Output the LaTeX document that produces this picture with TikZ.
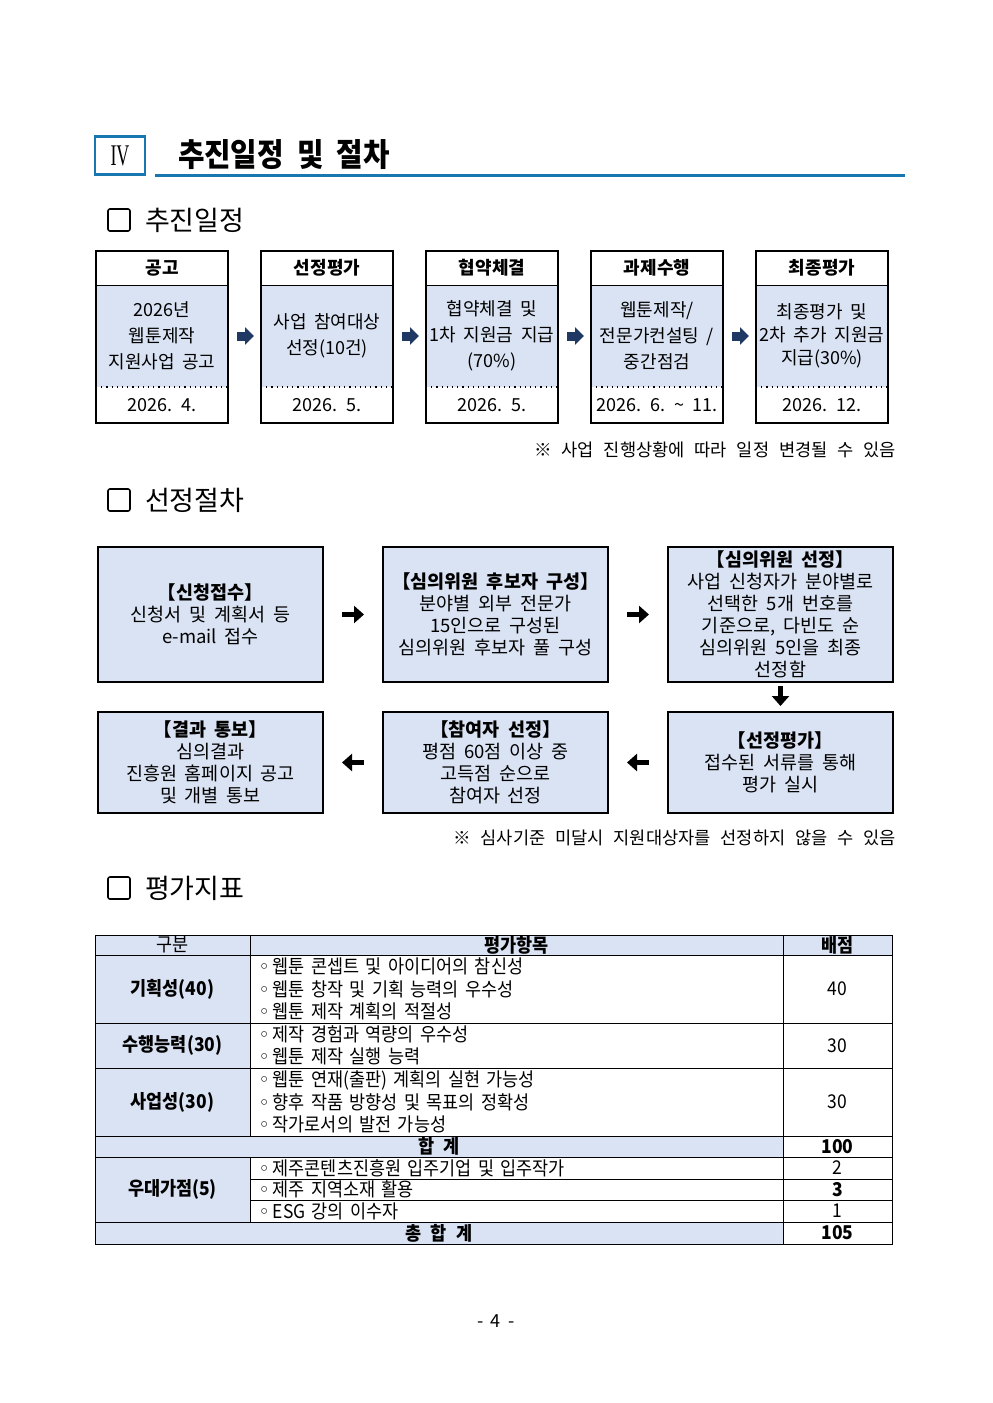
\documentclass[tikz,border=0pt]{standalone}
\usepackage{fontspec}
\setmainfont{Noto Sans CJK KR}[WordSpace=1.9]
\newfontfamily\tabfont{Noto Sans CJK KR}[FakeStretch=0.92,WordSpace=2.3]
\newfontfamily\titlefont{Noto Sans CJK KR}[FakeStretch=0.9,WordSpace=2]
\newfontfamily\notefont{Noto Sans CJK KR}[WordSpace=2.5]
\newfontfamily\romanfont{Liberation Serif}[FakeStretch=0.6]
\newfontfamily\symfont{DejaVu Sans}
\usepackage{tikz}
\usetikzlibrary{arrows.meta, positioning}
\definecolor{PaleBlue}{RGB}{218, 227, 243}
\definecolor{ArrowNavy}{RGB}{31, 56, 100}
\definecolor{TitleBlue}{RGB}{24, 118, 176}
\newcommand{\itemring}{{\symfont ◦}\hspace{1.5pt}}

\begin{document}
\begin{tikzpicture}[
    x=0.5pt, y=-0.5pt,
    every node/.style={font=\fontsize{9}{13}\selectfont, align=center, inner sep=0pt, outer sep=0pt},
    secbox/.style={draw, line width=0.8pt, rounded corners=1pt, minimum size=11pt},
    sectitle/.style={anchor=west, font=\fontsize{13.5}{15}\selectfont},
    stagehead/.style={minimum width=66pt, minimum height=17pt, font=\fontsize{9}{13}\selectfont\bfseries},
    stagebody/.style={fill=PaleBlue, minimum width=66pt, minimum height=51pt},
    stagedate/.style={minimum width=66pt, minimum height=18pt},
    stepbox/.style={draw, line width=1pt, fill=PaleBlue, minimum width=112.5pt,
                    font=\fontsize{9.25}{11}\selectfont},
    navyarrow/.style={ArrowNavy, line width=4.5pt, -{Triangle[length=4.5pt, width=8.5pt]},
                      shorten <=4.5pt, shorten >=3.5pt},
    flowarrow/.style={line width=2.5pt, -{Triangle[length=5pt, width=8.5pt]},
                      shorten <=9.5pt, shorten >=9.5pt},
    cell/.style={draw, line width=0.5pt, anchor=north west, font=\tabfont\fontsize{9.5}{11.25}\selectfont},
    catcell/.style={cell, fill=PaleBlue, minimum width=77.5pt, font=\tabfont\bfseries\fontsize{9.5}{11.25}\selectfont},
    itemcell/.style={cell, minimum width=266.5pt, text width=258pt, align=left, inner xsep=4.25pt},
    scorecell/.style={cell, minimum width=54.5pt},
    sumcell/.style={cell, fill=PaleBlue, minimum width=344pt, font=\tabfont\bfseries\fontsize{9.5}{11.25}\selectfont},
    note/.style={anchor=east, font=\notefont\fontsize{8.8}{10}\selectfont}
]
\path[fill=white, use as bounding box] (0,0) rectangle (992,1403);

\node[draw=TitleBlue, line width=1.2pt, minimum width=25pt, minimum height=19pt,
      font=\romanfont\fontsize{15}{15}\selectfont] (roman) at (120,155.5) {IV};
\node[anchor=west, font=\titlefont\bfseries\fontsize{16}{18}\selectfont] (title) at (178,155) {추진일정 및 절차};
\draw[TitleBlue, line width=1.5pt] (155,175) -- (905,175);

\node[secbox] (sq1) at (119,220) {};
\node[sectitle, right=7.5pt of sq1] (sec1) {추진일정};

\node[stagehead] (h1) at (162,268) {공고};
\node[stagebody, below=0pt of h1] (b1) {2026년\\웹툰제작\\지원사업 공고};
\node[stagedate, below=0pt of b1] (d1) {2026. 4.};
\node[stagehead, right=16.5pt of h1] (h2) {선정평가};
\node[stagebody, below=0pt of h2] (b2) {사업 참여대상\\선정(10건)};
\node[stagedate, below=0pt of b2] (d2) {2026. 5.};
\node[stagehead, right=16.5pt of h2] (h3) {협약체결};
\node[stagebody, below=0pt of h3] (b3) {협약체결 및\\1차 지원금 지급\\(70\%)};
\node[stagedate, below=0pt of b3] (d3) {2026. 5.};
\node[stagehead, right=16.5pt of h3] (h4) {과제수행};
\node[stagebody, below=0pt of h4] (b4) {웹툰제작/\\전문가컨설팅 /\\중간점검};
\node[stagedate, below=0pt of b4] (d4) {2026. 6. \textasciitilde{} 11.};
\node[stagehead, right=16.5pt of h4] (h5) {최종평가};
\node[stagebody, below=0pt of h5, font=\fontsize{9}{11.5}\selectfont] (b5) {최종평가 및\\2차 추가 지원금\\지급(30\%)};
\node[stagedate, below=0pt of b5] (d5) {2026. 12.};

\draw[line width=1pt] (h1.north west) rectangle (d1.south east);
\draw[line width=1pt] (h2.north west) rectangle (d2.south east);
\draw[line width=1pt] (h3.north west) rectangle (d3.south east);
\draw[line width=1pt] (h4.north west) rectangle (d4.south east);
\draw[line width=1pt] (h5.north west) rectangle (d5.south east);
\draw[line width=0.5pt] (h1.south west) -- (h1.south east);
\draw[line width=0.5pt] (h2.south west) -- (h2.south east);
\draw[line width=0.5pt] (h3.south west) -- (h3.south east);
\draw[line width=0.5pt] (h4.south west) -- (h4.south east);
\draw[line width=0.5pt] (h5.south west) -- (h5.south east);
\draw[dotted, line width=0.6pt] (b1.south west) -- (b1.south east);
\draw[dotted, line width=0.6pt] (b2.south west) -- (b2.south east);
\draw[dotted, line width=0.6pt] (b3.south west) -- (b3.south east);
\draw[dotted, line width=0.6pt] (b4.south west) -- (b4.south east);
\draw[dotted, line width=0.6pt] (b5.south west) -- (b5.south east);

\draw[navyarrow] (b1.east) -- (b2.west);
\draw[navyarrow] (b2.east) -- (b3.west);
\draw[navyarrow] (b3.east) -- (b4.west);
\draw[navyarrow] (b4.east) -- (b5.west);

\node[note] (note1) at (896,450) {※ 사업 진행상황에 따라 일정 변경될 수 있음};

\node[secbox] (sq2) at (119,500) {};
\node[sectitle, right=7.5pt of sq2] (sec2) {선정절차};

\node[stepbox, minimum height=67.5pt] (recv) at (210.5,614.5)
    {\textbf{【신청접수】}\\신청서 및 계획서 등\\e-mail 접수};
\node[stepbox, minimum height=67.5pt, right=30pt of recv] (pool)
    {\textbf{【심의위원 후보자 구성】}\\분야별 외부 전문가\\15인으로 구성된\\심의위원 후보자 풀 구성};
\node[stepbox, minimum height=67.5pt, right=30pt of pool] (panel)
    {\textbf{【심의위원 선정】}\\사업 신청자가 분야별로\\선택한 5개 번호를\\기준으로, 다빈도 순\\심의위원 5인을 최종\\선정함};
\node[stepbox, minimum height=50.5pt, below=15pt of panel] (review)
    {\textbf{【선정평가】}\\접수된 서류를 통해\\평가 실시};
\node[stepbox, minimum height=50.5pt, left=30pt of review] (pick)
    {\textbf{【참여자 선정】}\\평점 60점 이상 중\\고득점 순으로\\참여자 선정};
\node[stepbox, minimum height=50.5pt, left=30pt of pick] (notice)
    {\textbf{【결과 통보】}\\심의결과\\진흥원 홈페이지 공고\\및 개별 통보};

\draw[flowarrow] (recv.east) -- (pool.west);
\draw[flowarrow] (pool.east) -- (panel.west);
\draw[flowarrow, shorten <=2pt, shorten >=3pt] (panel.south) -- (review.north);
\draw[flowarrow] (review.west) -- (pick.east);
\draw[flowarrow] (pick.west) -- (notice.east);

\node[note] (note2) at (896,838) {※ 심사기준 미달시 지원대상자를 선정하지 않을 수 있음};

\node[secbox] (sq3) at (119,888) {};
\node[sectitle, right=7.5pt of sq3] (sec3) {평가지표};

\node[cell, fill=PaleBlue, minimum width=77.5pt, minimum height=10pt] (hdcat) at (95,935) {구분};
\node[cell, fill=PaleBlue, minimum width=266.5pt, minimum height=10pt,
      font=\tabfont\bfseries\fontsize{9.5}{11.25}\selectfont] (hditem) at (250,935) {평가항목};
\node[cell, fill=PaleBlue, minimum width=54.5pt, minimum height=10pt,
      font=\tabfont\bfseries\fontsize{9.5}{11.25}\selectfont] (hdscore) at (783,935) {배점};

\node[catcell, minimum height=34pt] (plan) at (95,955) {기획성(40)};
\node[itemcell, minimum height=34pt] (planitems) at (250,955)
    {\itemring 웹툰 콘셉트 및 아이디어의 참신성\\\itemring 웹툰 창작 및 기획 능력의 우수성\\\itemring 웹툰 제작 계획의 적절성};
\node[scorecell, minimum height=34pt] (planscore) at (783,955) {40};

\node[catcell, minimum height=22.5pt] (exec) at (95,1023) {수행능력(30)};
\node[itemcell, minimum height=22.5pt] (execitems) at (250,1023)
    {\itemring 제작 경험과 역량의 우수성\\\itemring 웹툰 제작 실행 능력};
\node[scorecell, minimum height=22.5pt] (execscore) at (783,1023) {30};

\node[catcell, minimum height=34pt] (biz) at (95,1068) {사업성(30)};
\node[itemcell, minimum height=34pt] (bizitems) at (250,1068)
    {\itemring 웹툰 연재(출판) 계획의 실현 가능성\\\itemring 향후 작품 방향성 및 목표의 정확성\\\itemring 작가로서의 발전 가능성};
\node[scorecell, minimum height=34pt] (bizscore) at (783,1068) {30};

\node[sumcell, minimum height=10.5pt] (subsum) at (95,1136) {합 계};
\node[scorecell, minimum height=10.5pt] (subscore) at (783,1136) {\textbf{100}};

\node[catcell, minimum height=32.5pt] (bonus) at (95,1157) {우대가점(5)};
\node[itemcell, minimum height=11pt] (bonusa) at (250,1157) {\itemring 제주콘텐츠진흥원 입주기업 및 입주작가};
\node[scorecell, minimum height=11pt] (bonusascore) at (783,1157) {2};
\node[itemcell, minimum height=10.5pt] (bonusb) at (250,1179) {\itemring 제주 지역소재 활용};
\node[scorecell, minimum height=10.5pt] (bonusbscore) at (783,1179) {\textbf{3}};
\node[itemcell, minimum height=11pt] (bonusc) at (250,1200) {\itemring ESG 강의 이수자};
\node[scorecell, minimum height=11pt] (bonuscscore) at (783,1200) {1};

\node[sumcell, minimum height=11pt] (total) at (95,1222) {총 합 계};
\node[scorecell, minimum height=11pt] (totalscore) at (783,1222) {\textbf{105}};

\node (pageno) at (496,1321) {- 4 -};
\end{tikzpicture}
\end{document}
